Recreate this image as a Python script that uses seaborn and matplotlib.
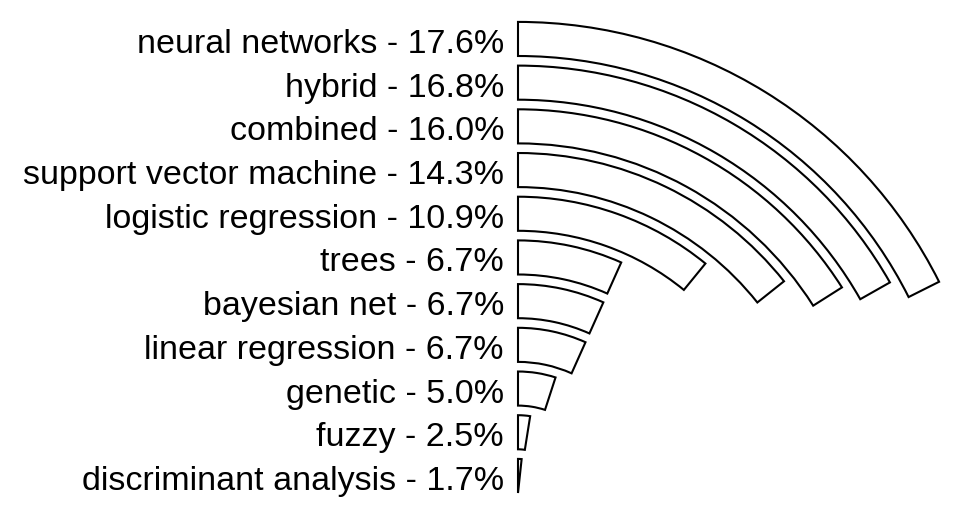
import numpy as np
import matplotlib.pyplot as plt
import seaborn as sns

# classification methods, innermost ring first
methods = ["discriminant analysis", "fuzzy", "genetic", "linear regression",
           "bayesian net", "trees", "logistic regression",
           "support vector machine", "combined", "hybrid", "neural networks"]
shares = [1.7, 2.5, 5.0, 6.7, 6.7, 6.7, 10.9, 14.3, 16.0, 16.8, 17.6]

sns.set_theme(style="white")
plt.rcParams['font.family'] = ['Liberation Sans', 'DejaVu Sans']

fig = plt.figure(figsize=(9.6, 5.29), dpi=100)

# polar axes bigger than the figure, centre near the bottom left
ring_px = 43.7
r_max = 11
R_px = ring_px * r_max
cx, cy = 518, 36
ax = fig.add_axes([(cx - R_px) / 960, (cy - R_px) / 529, 2 * R_px / 960, 2 * R_px / 529],
                  projection='polar')
ax.set_theta_zero_location('N')
ax.set_theta_direction(-1)

radii = np.arange(len(methods))
angles = np.deg2rad(np.array(shares) * 3.6)
ax.barh(radii, angles, height=0.78, left=0, align='edge',
        color='white', edgecolor='black', linewidth=1.5)
ax.set_ylim(0, r_max)
ax.axis('off')

for r, name, s in zip(radii, methods, shares):
    ax.annotate(f"{name} - {s:.1f}%", xy=(0, r + 0.39), xytext=(-14, -14),
                textcoords='offset pixels', ha='right', va='baseline',
                fontsize=24.5, color='black')

plt.savefig("out.png", dpi=100)
